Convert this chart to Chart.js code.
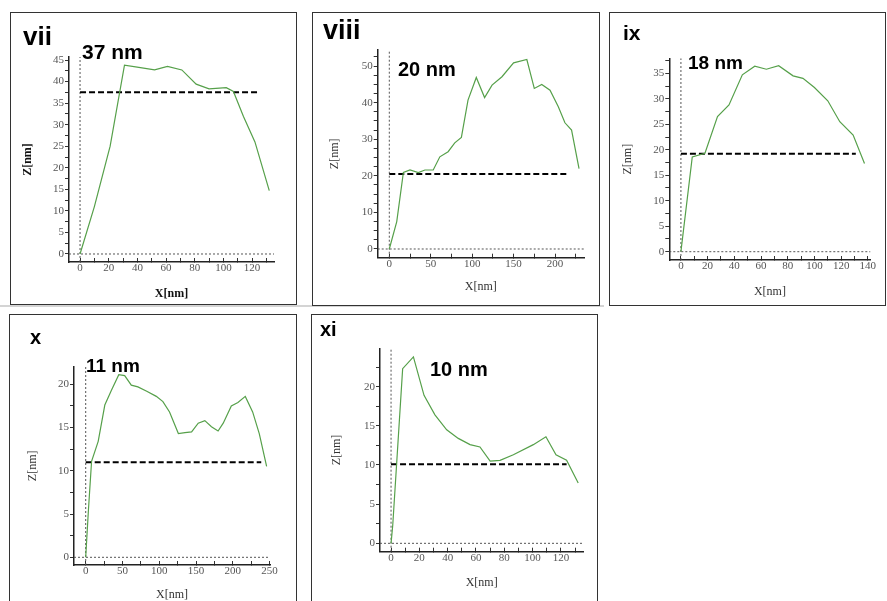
<!DOCTYPE html>
<html>
<head>
<meta charset="utf-8">
<script src="https://cdn.jsdelivr.net/npm/chart.js@4/dist/chart.umd.min.js"></script>
<style>
  body { margin: 0; width: 887px; height: 601px; background: #fff; position: relative; overflow: hidden;
         font-family: "Liberation Sans", Arial, sans-serif; }
  .box { position: absolute; border: 1.5px solid #333; box-sizing: border-box; }
  .rule { position: absolute; left: 0; top: 305px; width: 604px; height: 2px; background: #d4d4d4; }
  canvas { position: absolute; }
  .tag { position: absolute; font-weight: bold; line-height: 1; color: #000; white-space: nowrap; }
</style>
</head>
<body>
<div class="rule"></div>
<script>
// profile data, X[nm] and Z[nm]
var xVII = [0, 10, 21, 31, 41, 52, 61, 71, 81, 90, 102, 107, 114, 122, 132];
var zVII = [0, 11, 25, 43.8, 43.3, 42.7, 43.5, 42.7, 39.4, 38.3, 38.6, 37.7, 31.9, 26, 14.7];

var xVIII = [0, 9, 17, 25, 35, 43, 53, 61, 71, 79, 87, 95, 105, 115, 124, 136, 150, 166, 175, 184, 194, 204, 212, 220, 229];
var zVIII = [0, 7.5, 20.9, 21.6, 20.9, 21.6, 21.6, 25.2, 26.6, 29, 30.5, 40.7, 46.9, 41.4, 44.8, 47.1, 50.9, 51.8, 43.9, 45, 43.4, 38.9, 34.5, 32.5, 22];

var xIX = [0, 8.5, 18, 27.4, 36, 46, 55.3, 64, 73.2, 84, 91.4, 100, 110, 119, 129, 137.5];
var zIX = [0, 18.6, 19.3, 26.5, 28.8, 34.7, 36.4, 35.8, 36.5, 34.5, 34, 32.2, 29.6, 25.5, 22.9, 17.3];

var xX = [0, 3.6, 8, 17, 26, 35, 45, 53, 62, 71, 83, 96, 105, 114, 126, 135, 144, 153, 162, 171, 180, 187, 198, 207, 217, 227, 236, 246];
var zX = [0, 5.3, 11.1, 13.4, 17.6, 19.3, 21.1, 21, 19.9, 19.7, 19.2, 18.6, 18, 16.8, 14.3, 14.4, 14.5, 15.5, 15.8, 15.1, 14.6, 15.5, 17.5, 17.9, 18.6, 16.8, 14.3, 10.5];

var xXI = [0, 1.2, 8.2, 15.8, 23.3, 31, 39.3, 47.5, 55.8, 62.8, 70, 77, 86.4, 100.5, 109.4, 116.5, 124, 132.2];
var zXI = [0, 2.3, 22.3, 23.8, 18.9, 16.4, 14.5, 13.4, 12.6, 12.3, 10.5, 10.6, 11.3, 12.6, 13.6, 11.3, 10.6, 7.7];

// measured height line (value, where the dashed line stops)
var heightZ = [37.5, 20.5, 19.2, 11, 10.1];
var heightEnd = [124, 216, 131, 238.7, 124];

var panelTags = ['vii', 'viii', 'ix', 'x', 'xi'];
var heightLabels = ['37 nm', '20 nm', '18 nm', '11 nm', '10 nm'];
var xTitle = 'X[nm]';
var yTitle = 'Z[nm]';

// axis ranges and tick steps [major, minor]
var xRanges = [[-7.7, 135.3], [-14, 235], [-8.7, 142], [-15.9, 250.6], [-7.8, 135.8]];
var yRanges = [[-1.86, 45.7], [-2.38, 54.4], [-1.63, 37.94], [-0.89, 22.03], [-1.07, 24.9]];
var xSteps = [[20, 10], [50, 25], [20, 10], [50, 25], [20, 10]];
var ySteps = [[5, 2.5], [10, 2.5], [5, 2.5], [5, 2.5], [5, 2.5]];

// layout of each panel: box on page, plot area inside the canvas, title spots
var layouts = [
  { left: 10,  top: 12,  w: 287, h: 291, area: [59, 264, 45, 250],     yPad: 12,   xPad: 3,    bold: true,
    tag: [23, 23, 26],   lab: [82, 40.5, 21] },
  { left: 312, top: 12,  w: 288, h: 292, area: [65.7, 272, 38, 245.7], yPad: 17,   xPad: 11.3, bold: false,
    tag: [323, 17, 27],  lab: [398, 59, 20] },
  { left: 609, top: 12,  w: 277, h: 292, area: [60.3, 261.5, 46.3, 248], yPad: 13.3, xPad: 6.3,  bold: false,
    tag: [623, 21.5, 21], lab: [688, 53, 19] },
  { left: 9,   top: 314, w: 288, h: 287, area: [65, 261, 52.7, 251], yPad: 18.3, xPad: 0,    bold: false,
    tag: [30, 327, 20],  lab: [86, 355.6, 19] },
  { left: 311, top: 314, w: 287, h: 287, area: [69, 272.3, 34.3, 237.7], yPad: 19.7, xPad: 12, bold: false,
    tag: [320, 319, 20], lab: [430, 359, 20] }
];

var xData = [xVII, xVIII, xIX, xX, xXI];
var zData = [zVII, zVIII, zIX, zX, zXI];

function pts(xs, zs) {
  var out = [];
  for (var i = 0; i < xs.length; i++) out.push({ x: xs[i], y: zs[i] });
  return out;
}

function isMajor(v, major) {
  var r = v / major;
  return Math.abs(r - Math.round(r)) < 1e-6;
}

function fixSize(w, h) {
  return function (s) {
    if (w != null) s.width = w;
    if (h != null) s.height = h;
    s.paddingLeft = 0; s.paddingRight = 0; s.paddingTop = 0; s.paddingBottom = 0;
  };
}

function makePanel(i) {
  var L = layouts[i];
  var box = document.createElement('div');
  box.className = 'box';
  box.style.left = L.left + 'px'; box.style.top = L.top + 'px';
  box.style.width = L.w + 'px'; box.style.height = (L.h + 2) + 'px';
  document.body.appendChild(box);

  var cv = document.createElement('canvas');
  cv.width = L.w; cv.height = L.h;
  cv.style.left = L.left + 'px'; cv.style.top = L.top + 'px';
  cv.style.width = L.w + 'px'; cv.style.height = L.h + 'px';
  document.body.appendChild(cv);

  var xr = xRanges[i], yr = yRanges[i];
  var titleFont = { family: '"Liberation Serif", "Times New Roman", serif', size: 12,
                    weight: L.bold ? 'bold' : 'normal', lineHeight: 1 };
  var tickFont = { family: '"Liberation Serif", "Times New Roman", serif', size: 11 };
  var titleColor = L.bold ? '#111' : '#333';

  new Chart(cv.getContext('2d'), {
    type: 'line',
    data: {
      datasets: [
        { data: pts(xData[i], zData[i]), borderColor: '#56a04a', borderWidth: 1.2, pointRadius: 0, tension: 0 },
        { data: pts([0, heightEnd[i]], [heightZ[i], heightZ[i]]), borderColor: '#000', borderWidth: 2,
          borderDash: [6, 3], pointRadius: 0 },
        { data: pts([0, 0], [yr[0], yr[1]]), borderColor: '#555', borderWidth: 1, borderDash: [2, 2], pointRadius: 0 },
        { data: pts([xr[0], xr[1]], [0, 0]), borderColor: '#555', borderWidth: 1, borderDash: [2, 2], pointRadius: 0 }
      ]
    },
    options: {
      responsive: false,
      animation: false,
      events: [],
      layout: { autoPadding: false,
                padding: { left: 0, top: L.area[2], right: L.w - L.area[1], bottom: 0 } },
      plugins: { legend: { display: false }, tooltip: { enabled: false } },
      scales: {
        x: {
          type: 'linear', position: 'bottom', min: xr[0], max: xr[1],
          afterFit: fixSize(null, L.h - L.area[3]),
          border: { color: '#222', width: 1.5 },
          grid: { drawOnChartArea: false, drawTicks: true, tickLength: -4, tickColor: '#333', tickWidth: 1 },
          ticks: {
            stepSize: xSteps[i][1], includeBounds: false, autoSkip: false, maxRotation: 0,
            padding: 4, color: '#555', font: tickFont,
            callback: (function (mj) { return function (v) { return isMajor(v, mj) ? String(v) : ''; }; })(xSteps[i][0])
          },
          title: { display: true, text: xTitle, color: titleColor, font: titleFont, padding: { top: 0, bottom: L.xPad } }
        },
        y: {
          type: 'linear', position: 'left', min: yr[0], max: yr[1],
          afterFit: fixSize(L.area[0], null),
          border: { color: '#222', width: 1.5 },
          grid: { drawOnChartArea: false, drawTicks: true, tickLength: 4, tickColor: '#333', tickWidth: 1 },
          ticks: {
            stepSize: ySteps[i][1], includeBounds: false, autoSkip: false,
            padding: 1, color: '#555', font: tickFont,
            callback: (function (mj) { return function (v) { return isMajor(v, mj) ? String(v) : ''; }; })(ySteps[i][0])
          },
          title: { display: true, text: yTitle, color: titleColor, font: titleFont, padding: { top: L.yPad, bottom: 0 } }
        }
      }
    }
  });

  var tag = document.createElement('div');
  tag.className = 'tag';
  tag.textContent = panelTags[i];
  tag.style.left = L.tag[0] + 'px'; tag.style.top = L.tag[1] + 'px'; tag.style.fontSize = L.tag[2] + 'px';
  document.body.appendChild(tag);

  var lab = document.createElement('div');
  lab.className = 'tag';
  lab.textContent = heightLabels[i];
  lab.style.left = L.lab[0] + 'px'; lab.style.top = L.lab[1] + 'px'; lab.style.fontSize = L.lab[2] + 'px';
  document.body.appendChild(lab);
}

for (var p = 0; p < layouts.length; p++) makePanel(p);
</script>
</body>
</html>
